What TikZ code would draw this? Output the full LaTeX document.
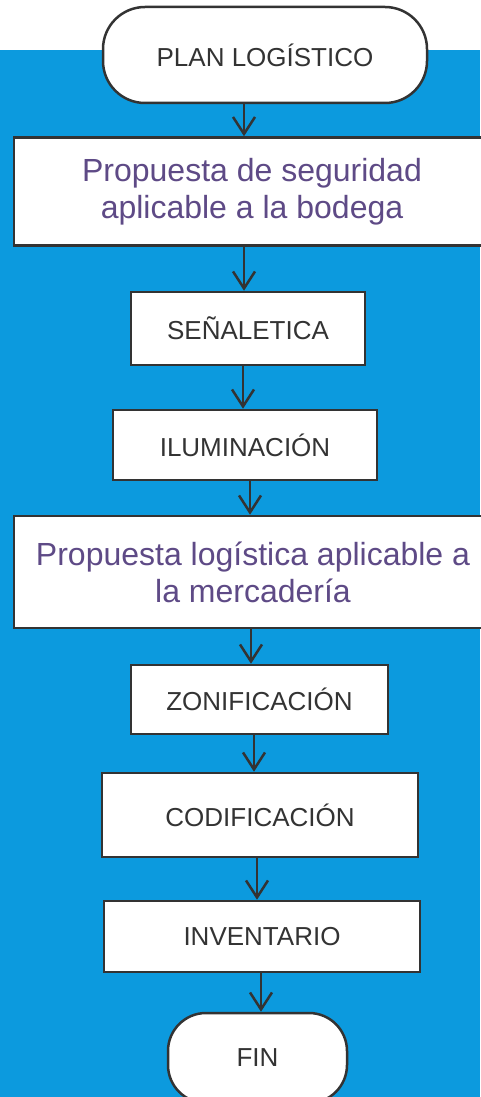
\documentclass[tikz,border=0pt]{standalone}
\usepackage{fontspec}
\setmainfont{Liberation Sans}
\usepackage{xcolor}
\usetikzlibrary{arrows.meta}
\definecolor{fondo}{RGB}{12,154,222}
\definecolor{morado}{RGB}{94,74,134}
\definecolor{trazo}{RGB}{51,51,51}

\begin{document}
\begin{tikzpicture}[
		x=1pt, y=-1pt,
		line width=2.5pt,
		every node/.style={draw=trazo, fill=white, text=trazo, align=center, inner sep=0pt},
		paso/.style={font=\fontsize{26}{30}\selectfont},
		propuesta/.style={text=morado, font=\fontsize{32}{37}\selectfont},
		terminal/.style={paso, rounded corners=42pt},
		flecha/.style={draw=trazo, -{Straight Barb[length=17pt, width=22pt, line width=2.5pt]}}
		]

	% Fondo
	\useasboundingbox (0, 0) rectangle (480, 1097);
	\fill[fondo] (0, 50) rectangle (480, 1097);

	% Inicio
	\node[terminal, minimum width=324pt, minimum height=96pt] (plan) at (265, 55) {PLAN LOGÍSTICO};

	% Propuesta de seguridad
	\node[propuesta, minimum width=476pt, minimum height=108pt] (seguridad) at (252, 191.5) {Propuesta de seguridad\\aplicable a la bodega};
	\node[paso, minimum width=234pt, minimum height=73pt] (senaletica) at (248, 328.5) {SEÑALETICA};
	\node[paso, minimum width=264pt, minimum height=70pt] (iluminacion) at (245, 445) {ILUMINACIÓN};

	% Propuesta logistica
	\node[propuesta, minimum width=478pt, minimum height=112pt] (mercaderia) at (253, 572) {Propuesta logística aplicable a\\la mercadería};
	\node[paso, minimum width=257pt, minimum height=69pt] (zonificacion) at (259.5, 699.5) {ZONIFICACIÓN};
	\node[paso, minimum width=316pt, minimum height=84pt] (codificacion) at (260, 815) {CODIFICACIÓN};
	\node[paso, minimum width=316pt, minimum height=71pt] (inventario) at (262, 936.5) {INVENTARIO};

	% Fin
	\node[terminal, rounded corners=38pt, minimum width=179pt, minimum height=90pt] (fin) at (257.5, 1058) {FIN};

	% Flechas
	\foreach \a/\b/\x in {plan/seguridad/244, seguridad/senaletica/244, senaletica/iluminacion/243,
			iluminacion/mercaderia/250, mercaderia/zonificacion/251, zonificacion/codificacion/254,
			codificacion/inventario/257, inventario/fin/261}{
		\draw[flecha] (\a.south -| \x,0) -- (\b.north -| \x,0);
	}

\end{tikzpicture}
\end{document}
